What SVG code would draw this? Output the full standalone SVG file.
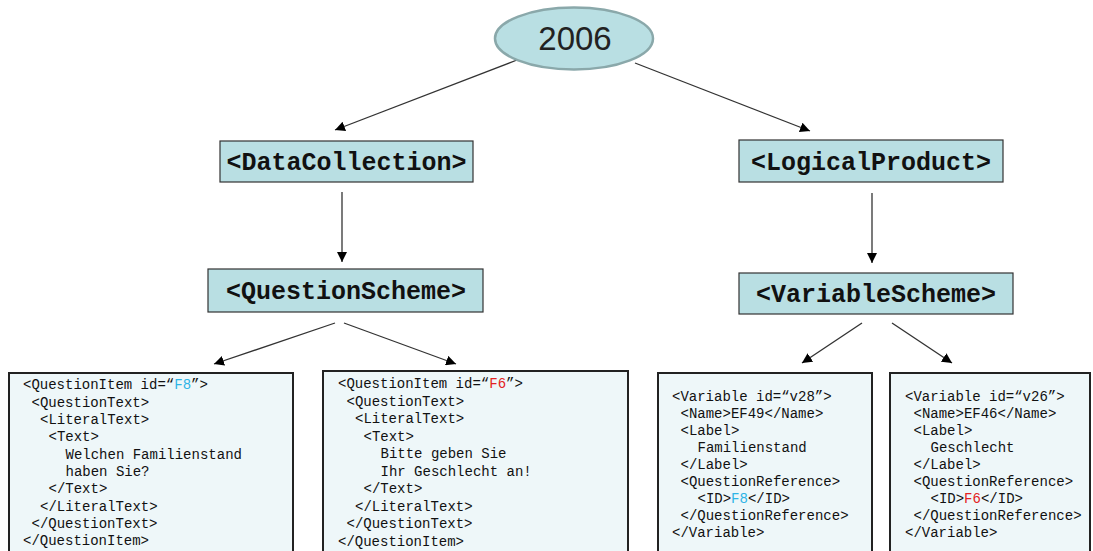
<svg xmlns="http://www.w3.org/2000/svg" width="1093" height="551" viewBox="0 0 1093 551">
<style>
.node{fill:#b9dfe3;stroke:#333;stroke-width:1.2}
.ntext{font-family:"Liberation Mono","Courier New",monospace;font-weight:bold;font-size:25px;fill:#111;text-anchor:middle}
.code{fill:#eef7f9;stroke:#222;stroke-width:2}
.ct{font-family:"Liberation Mono","Courier New",monospace;font-size:14px;fill:#111}
.blue{fill:#2fb4e6}
.red{fill:#e32222}
.conn{stroke:#333;stroke-width:1.3;fill:none;marker-end:url(#ah)}
</style>
<defs>
<marker id="ah" viewBox="0 0 10 10" refX="10" refY="5" markerWidth="10" markerHeight="10" markerUnits="userSpaceOnUse" orient="auto">
<path d="M0,0 L10,5 L0,10 z" fill="#000"/>
</marker>
</defs>
<rect width="1093" height="551" fill="#fff"/>
<g id="connectors">
<line class="conn" x1="517" y1="60" x2="335" y2="130"/>
<line class="conn" x1="635" y1="63" x2="810" y2="131"/>
<line class="conn" x1="342" y1="192" x2="342" y2="262"/>
<line class="conn" x1="872" y1="193" x2="872" y2="263"/>
<line class="conn" x1="335" y1="323" x2="214" y2="364"/>
<line class="conn" x1="344" y1="323" x2="456" y2="364"/>
<line class="conn" x1="862" y1="323" x2="802" y2="363"/>
<line class="conn" x1="892" y1="323" x2="952" y2="363"/>
</g>
<g id="n2006">
<ellipse cx="574" cy="38.5" rx="79" ry="31" fill="#b9dfe3" stroke="#8aa8aa" stroke-width="2.5"/>
<text x="575" y="50" font-family="'Liberation Sans',Arial,sans-serif" font-size="33" fill="#222" text-anchor="middle">2006</text>
</g>
<g id="nDataCollection">
<rect class="node" x="220" y="141" width="253" height="41"/>
<text class="ntext" x="346.5" y="170">&lt;DataCollection&gt;</text>
</g>
<g id="nLogicalProduct">
<rect class="node" x="739" y="140" width="264" height="42"/>
<text class="ntext" x="871" y="169.5">&lt;LogicalProduct&gt;</text>
</g>
<g id="nQuestionScheme">
<rect class="node" x="208" y="269" width="275" height="43"/>
<text class="ntext" x="346" y="299">&lt;QuestionScheme&gt;</text>
</g>
<g id="nVariableScheme">
<rect class="node" x="739" y="273" width="274" height="41"/>
<text class="ntext" x="876" y="302">&lt;VariableScheme&gt;</text>
</g>
<g id="qF8">
<rect class="code" x="9" y="373" width="284" height="190"/>
<text class="ct" x="23" y="389">&lt;QuestionItem id=“<tspan class="blue">F8</tspan>”&gt;</text>
<text class="ct" x="31.5" y="406.5">&lt;QuestionText&gt;</text>
<text class="ct" x="40" y="424">&lt;LiteralText&gt;</text>
<text class="ct" x="48.5" y="441">&lt;Text&gt;</text>
<text class="ct" x="65.5" y="458.5">Welchen Familienstand</text>
<text class="ct" x="65.5" y="476">haben Sie?</text>
<text class="ct" x="48.5" y="493">&lt;/Text&gt;</text>
<text class="ct" x="40" y="510.5">&lt;/LiteralText&gt;</text>
<text class="ct" x="31.5" y="528">&lt;/QuestionText&gt;</text>
<text class="ct" x="23" y="545">&lt;/QuestionItem&gt;</text>
</g>
<g id="qF6">
<rect class="code" x="323" y="371" width="305" height="192"/>
<text class="ct" x="338" y="388">&lt;QuestionItem id=“<tspan class="red">F6</tspan>”&gt;</text>
<text class="ct" x="346.5" y="405.5">&lt;QuestionText&gt;</text>
<text class="ct" x="355" y="423">&lt;LiteralText&gt;</text>
<text class="ct" x="363.5" y="440.5">&lt;Text&gt;</text>
<text class="ct" x="380.5" y="458">Bitte geben Sie</text>
<text class="ct" x="380.5" y="475.5">Ihr Geschlecht an!</text>
<text class="ct" x="363.5" y="493">&lt;/Text&gt;</text>
<text class="ct" x="355" y="510.5">&lt;/LiteralText&gt;</text>
<text class="ct" x="346.5" y="528">&lt;/QuestionText&gt;</text>
<text class="ct" x="338" y="545.5">&lt;/QuestionItem&gt;</text>
</g>
<g id="v28">
<rect class="code" x="658" y="373" width="214" height="190"/>
<text class="ct" x="672" y="401">&lt;Variable id=“v28”&gt;</text>
<text class="ct" x="680.5" y="418">&lt;Name&gt;EF49&lt;/Name&gt;</text>
<text class="ct" x="680.5" y="435">&lt;Label&gt;</text>
<text class="ct" x="697.5" y="452">Familienstand</text>
<text class="ct" x="680.5" y="469">&lt;/Label&gt;</text>
<text class="ct" x="680.5" y="486">&lt;QuestionReference&gt;</text>
<text class="ct" x="697.5" y="503">&lt;ID&gt;<tspan class="blue">F8</tspan>&lt;/ID&gt;</text>
<text class="ct" x="680.5" y="520">&lt;/QuestionReference&gt;</text>
<text class="ct" x="672" y="537">&lt;/Variable&gt;</text>
</g>
<g id="v26">
<rect class="code" x="890" y="373" width="200" height="190"/>
<text class="ct" x="905" y="401">&lt;Variable id=“v26”&gt;</text>
<text class="ct" x="913.5" y="418">&lt;Name&gt;EF46&lt;/Name&gt;</text>
<text class="ct" x="913.5" y="435">&lt;Label&gt;</text>
<text class="ct" x="930.5" y="452">Geschlecht</text>
<text class="ct" x="913.5" y="469">&lt;/Label&gt;</text>
<text class="ct" x="913.5" y="486">&lt;QuestionReference&gt;</text>
<text class="ct" x="930.5" y="503">&lt;ID&gt;<tspan class="red">F6</tspan>&lt;/ID&gt;</text>
<text class="ct" x="913.5" y="520">&lt;/QuestionReference&gt;</text>
<text class="ct" x="905" y="537">&lt;/Variable&gt;</text>
</g>
</svg>
